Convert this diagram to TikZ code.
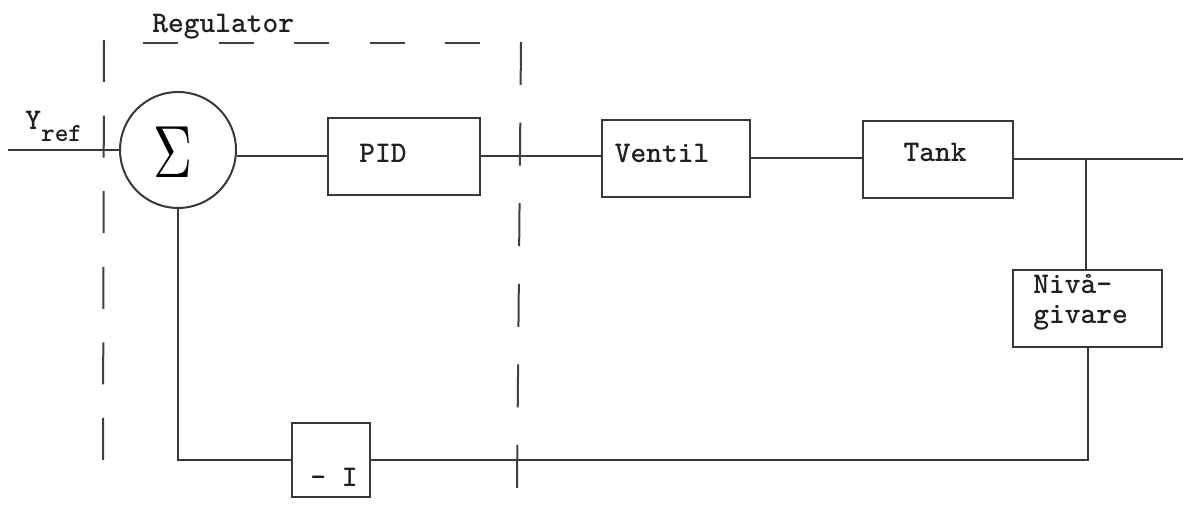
\documentclass[tikz,border=0pt]{standalone}
\usepackage{fontspec}
\newcommand\tw{\ttfamily\bfseries}
\begin{document}
\begin{tikzpicture}[x=0.5pt,y=-0.5pt,
  ln/.style={draw=black!78,line width=1pt},
  blk/.style={ln,rectangle,inner sep=0pt,fill=none},
  txt/.style={font=\tw\fontsize{15}{15}\selectfont,text=black!88,inner sep=0pt},
  dsh/.style={draw=black!75,line width=1pt}]
\useasboundingbox (0,0) rectangle (1183,506);
% blocks
\node[ln,circle,minimum size=58pt,inner sep=0pt] (S) at (178,150) {};
\node[inner sep=0pt] (sig) at (173,152) {\scalebox{2.7}[3.7]{$\Sigma$}};
\node[blk,minimum width=76pt,minimum height=38.5pt] (pid) at (404,156.5) {};
\node[txt] (pidt) at (383,153) {PID};
\node[blk,minimum width=74pt,minimum height=38.5pt] (ventil) at (676,158.5) {};
\node[txt] (ventilt) at (662,153) {Ventil};
\node[blk,minimum width=75pt,minimum height=38.5pt] (tank) at (938,159.5) {};
\node[txt] (tankt) at (935,152) {Tank};
\node[blk,minimum width=74.5pt,minimum height=38.5pt] (niva) at (1087.5,308.5) {};
\node[txt,align=left,anchor=north west] (nivat) at (1033,274) {Niv\aa-\\givare};
\node[blk,minimum width=39pt,minimum height=37pt] (minus) at (331,460) {};
\node[txt] (minust) at (334,477) {- I};
\node[txt,anchor=base west] (yref) at (25,130) {Y\raisebox{-6pt}{\fontsize{13}{13}\selectfont ref}};
\node[txt,anchor=base west] (reg) at (152,33) {Regulator};
% connectors
\coordinate (in) at (8,150);
\coordinate (out) at (1183,159.5);
\coordinate (br) at (1086,159.5);
\draw[ln] (in) -- (S.west);
\draw[ln] (pid.west) -- (pid.west -| S.east);
\draw[ln] (pid.east) -- (pid.east -| ventil.west);
\draw[ln] (ventil.east) -- (ventil.east -| tank.west);
\draw[ln] (tank.east) -- (out);
\draw[ln] (br) -- (br |- niva.north);
\draw[ln] (niva.south) |- (minus.east);
\draw[ln] (minus.west) -| (S.south);
% regulator boundary
\draw[dsh,dash pattern=on 17.5pt off 20.25pt] (143,43) -- (480,43);
\draw[dsh,dash pattern=on 21pt off 16.8pt] (104,40) -- (103,460);
\draw[dsh,dash pattern=on 21.5pt off 18.8pt] (521,42) -- (517,488);
\end{tikzpicture}
\end{document}
